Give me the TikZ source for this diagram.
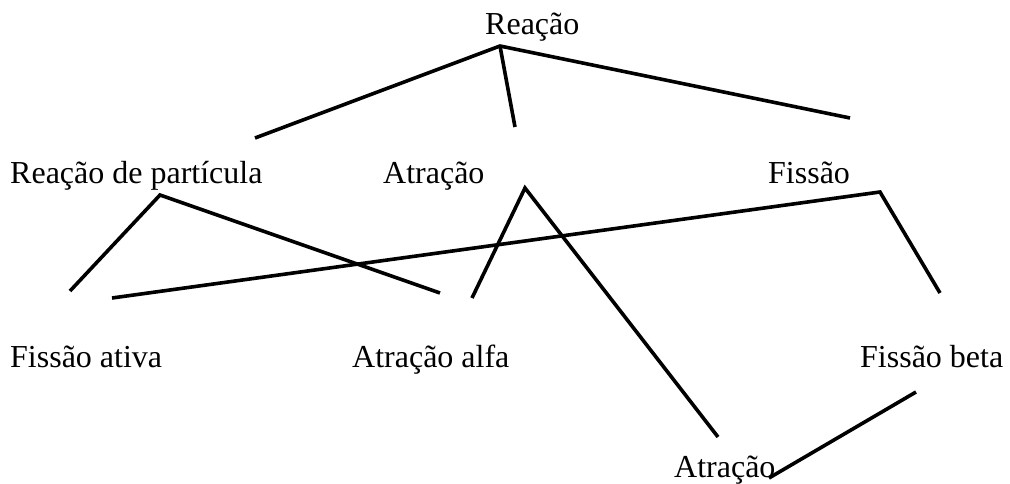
\documentclass[tikz,border=0pt]{standalone}
\usepackage{fontspec}
\setmainfont{Liberation Serif}
\begin{document}
\begin{tikzpicture}[x=1pt,y=-1pt,
  lbl/.style={inner sep=0pt,anchor=base west,font=\fontsize{32}{38}\selectfont},
  conn/.style={line width=3.6pt,black}]
\useasboundingbox (0,0) rectangle (1010,484);
% labels
\node[lbl] (r) at (485,35) {Reação};
\node[lbl] (rp) at (10,183) {Reação de partícula};
\node[lbl] (a) at (383,183) {Atração};
\node[lbl] (f) at (768,183) {Fissão};
\node[lbl] (fa) at (10,367) {Fissão ativa};
\node[lbl] (aa) at (352,367) {Atração alfa};
\node[lbl] (fb) at (860,367) {Fissão beta};
\node[lbl] (a2) at (674,477) {Atração};
% connector ends
\coordinate (r0) at (500,46);
\coordinate (r1) at (255,138);
\coordinate (r2) at (515,127);
\coordinate (r3) at (850,118);
\coordinate (p0) at (160,195);
\coordinate (p1) at (70,291);
\coordinate (p2) at (440,293);
\coordinate (a0) at (525,188);
\coordinate (a1) at (472,298);
\coordinate (a3) at (718,437);
\coordinate (f0) at (880,192);
\coordinate (f1) at (112,298);
\coordinate (f2) at (940,293);
\coordinate (b0) at (916,392);
\coordinate (b1) at (769,478);
% connectors
\draw[conn] (r1) -- (r0) -- (r3);
\draw[conn] (r0) -- (r2);
\draw[conn] (p1) -- (p0) -- (p2);
\draw[conn] (a1) -- (a0) -- (a3);
\draw[conn] (f1) -- (f0) -- (f2);
\draw[conn] (b0) -- (b1);
\end{tikzpicture}
\end{document}
